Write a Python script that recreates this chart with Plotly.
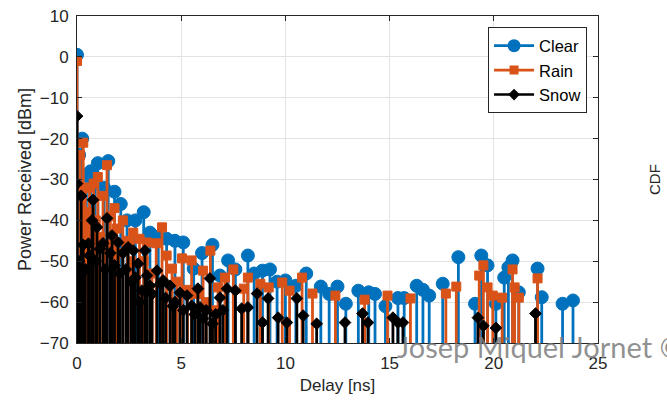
import plotly.graph_objects as go

# ---------------- data ----------------
clear_x = [0.0, 0.1, 0.25, 0.45, 0.65, 0.85, 1.0, 1.3, 1.5, 1.8, 2.1, 2.4, 2.8, 3.2, 3.5,
           3.9, 4.3, 4.7, 5.1, 5.6, 6.0, 6.5, 6.86, 7.25, 7.6, 8.2, 8.5, 8.9, 9.26, 9.6,
           10.0, 10.5, 11.0, 11.7, 12.1, 12.5, 12.9, 13.5, 14.0, 14.3, 14.8, 15.4, 15.7,
           16.3, 16.6, 16.9, 17.55, 18.3, 19.1, 19.4, 19.7, 20.1, 20.5, 20.7, 20.9, 21.2,
           22.1, 22.3, 23.3, 23.8]
clear_y = [0.5, -24, -20, -29, -28, -31, -26, -32, -25.5, -33, -36, -40, -40, -38, -43,
           -44, -44.5, -45, -45.4, -51.8, -48, -46, -53.5, -49.8, -52, -48.6, -53, -52.3, -52, -55,
           -54.7, -56, -53, -56.2, -58, -56.2, -60.4, -57.2, -57.6, -58, -61, -59, -59,
           -56, -57, -58.4, -55.5, -49, -60.4, -48.6, -51, -60.4, -54, -51.5, -49.8, -57.6,
           -51.8, -58.8, -60.4, -59.6]

rain_x = [0.0, 0.15, 0.3, 0.4, 0.5, 0.6, 0.8, 0.9, 1.0, 1.1, 1.25, 1.35, 1.44, 1.6, 1.8,
          1.9, 2.0, 2.2, 2.45, 2.6, 2.7, 3.0, 3.2, 3.35, 3.6, 3.8, 4.08, 4.3, 4.56, 4.8,
          5.04, 5.3, 5.5, 5.8, 6.05, 6.2, 6.4, 6.6, 6.77, 7.1, 7.5, 8.0, 8.2,
          8.8, 9.2, 9.85, 10.2, 10.8, 11.3, 12.4, 13.8, 14.9, 16.0, 17.7, 18.2, 19.3, 19.5,
          19.7, 19.95, 20.4, 20.9, 21.0, 21.2, 22.1]
rain_y = [-1, -24, -21, -32, -38, -32, -31, -40, -29.4, -44, -34, -46, -26.5, -39, -37,
          -42, -48, -40, -45, -50, -43, -44.5, -50, -45.4, -53, -45.6, -41.7, -48.6, -51.8, -55,
          -49.3, -57, -49.8, -58, -52.3, -60, -47.4, -62, -56.4, -54, -52, -56.7, -54,
          -55.5, -56.4, -55.2, -57.2, -54, -57.9, -58.4, -59.4, -58.4, -59.1, -57.9, -56.2, -53.5, -51,
          -56.4, -58.4, -58.9, -52, -56.4, -58.9, -54.2]

snow_x = [0.0, 0.0, 0.1, 0.2, 0.3, 0.4, 0.55, 0.6, 0.72, 0.77, 0.9, 0.96, 1.1, 1.25, 1.35,
          1.44, 1.6, 1.68, 1.8, 1.97, 2.05, 2.2, 2.35, 2.45, 2.6, 2.7, 2.8, 2.93, 3.0, 3.12,
          3.26, 3.36, 3.5, 3.6, 3.84, 4.0, 4.13, 4.25, 4.46, 4.6, 4.7, 4.94, 5.1,
          5.28, 5.5, 5.65, 5.8, 5.9, 6.05, 6.2, 6.38, 6.5, 6.65, 6.86, 7.0, 7.2, 7.6, 7.9,
          8.2, 8.64, 8.9, 9.17, 9.65, 10.07, 10.55, 10.85, 11.5, 12.86, 13.7, 13.96, 15.16,
          15.4, 15.64, 19.24, 19.5, 20.1, 22.0]
snow_y = [-14.5, -31, -50, -34, -46, -52, -45.7, -48.6, -40, -35, -50, -41.7, -47, -45.6, -52,
          -39.5, -48, -43.7, -51, -45.4, -53, -48, -52, -46.6, -55, -47.4, -54, -50.6, -60, -57.2,
          -47.4, -53.5, -56, -58, -52.3, -55.5, -54.7, -59, -56, -61, -60, -57.7, -62,
          -58.4, -60.9, -63, -56.7, -61.3, -64, -62, -54.2, -65.3, -63, -58.9, -62, -56.7, -57.2, -61.6,
          -61.3, -57.9, -65, -59.1, -63.8, -65, -59.1, -63.3, -65.3, -65, -62.8, -65, -63.8,
          -65, -65, -63.8, -65.8, -66.3, -62.8]

series_names = ["Clear", "Rain", "Snow"]
x_ticks = [0, 5, 10, 15, 20, 25]
y_ticks = [-70, -60, -50, -40, -30, -20, -10, 0, 10]
baseline = -70

# ---------------- styling ----------------
colors = ["#0072BD", "#D95319", "#000000"]
symbols = ["circle", "square", "diamond"]
sizes = [13, 9, 9]
font_family = "Liberation Sans, Arial, sans-serif"
axis_color = "#262626"

fig = go.Figure()

for name, xs, ys, col, sym, sz in zip(series_names, [clear_x, rain_x, snow_x],
                                       [clear_y, rain_y, snow_y], colors, symbols, sizes):
    sx, sy = [], []
    for xv, yv in zip(xs, ys):
        sx += [xv, xv, None]
        sy += [baseline, yv, None]
    fig.add_trace(go.Scatter(x=sx, y=sy, mode="lines", line=dict(color=col, width=2.8),
                             showlegend=False, hoverinfo="skip"))
    fig.add_trace(go.Scatter(x=xs, y=ys, mode="markers",
                             marker=dict(color=col, symbol=sym, size=sz,
                                         line=dict(color=col, width=1)),
                             showlegend=False, cliponaxis=True))
    fig.add_trace(go.Scatter(x=[None], y=[None], mode="lines+markers", name=name,
                             line=dict(color=col, width=2.6),
                             marker=dict(color=col, symbol=sym, size=sz)))

fig.update_layout(
    width=667, height=401,
    margin=dict(l=77, r=69, t=16, b=58, autoexpand=False),
    paper_bgcolor="white", plot_bgcolor="white",
    font=dict(family=font_family, size=17, color=axis_color),
    legend=dict(x=0.979, y=0.965, xanchor="right", yanchor="top",
                bgcolor="white", bordercolor=axis_color, borderwidth=1,
                font=dict(size=16.5, color="#000000"), itemwidth=40,
                tracegroupgap=0),
    annotations=[
        dict(text="CDF", x=(655 - 77) / 521, y=(343 - 180) / 327, xref="paper", yref="paper",
             xanchor="center", yanchor="middle", showarrow=False,
             textangle=-90, font=dict(size=15, color="#262626")),
        dict(text="Josep Miquel Jornet ©", xref="paper", yref="paper",
             x=(395 - 77) / 521, y=(343 - 346) / 327, xanchor="left", yanchor="middle",
             showarrow=False, font=dict(family="Lato, Open Sans, sans-serif", size=29,
                                        color="rgba(125,125,125,0.85)")),
    ],
)

fig.update_xaxes(range=[0, 25], tickvals=x_ticks, ticks="inside", ticklen=5,
                 tickcolor=axis_color, showline=True, linecolor=axis_color, linewidth=1,
                 mirror="ticks", showgrid=True, gridcolor="#e3e3e3", gridwidth=1,
                 zeroline=False, ticklabelstandoff=5, automargin=False,
                 title=dict(text="Delay [ns]", font=dict(size=17), standoff=6),
                 tickfont=dict(size=17))
fig.update_yaxes(range=[-70, 10], tickvals=y_ticks, ticks="inside", ticklen=5,
                 tickcolor=axis_color, showline=True, linecolor=axis_color, linewidth=1,
                 mirror="ticks", showgrid=True, gridcolor="#e3e3e3", gridwidth=1,
                 zeroline=False, ticklabelstandoff=4, automargin=False,
                 title=dict(text="Power Received [dBm]", font=dict(size=18), standoff=3),
                 tickfont=dict(size=17))

fig.write_html("out.html")
